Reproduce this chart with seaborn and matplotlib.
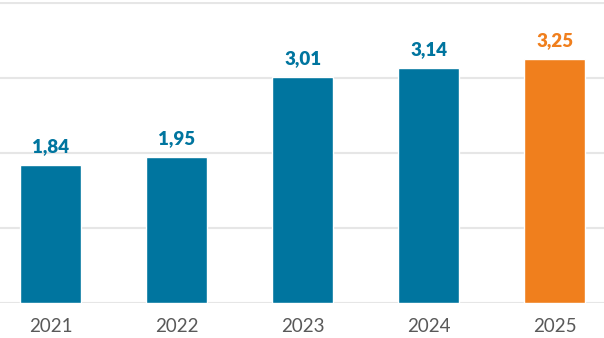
import matplotlib
matplotlib.use("Agg")
import matplotlib.pyplot as plt
import seaborn as sns
import pandas as pd

years = ["2021", "2022", "2023", "2024", "2025"]
values = [1.84, 1.95, 3.01, 3.14, 3.25]
bar_colors = ["#00759F", "#00759F", "#00759F", "#00759F", "#F07F1D"]

sns.set_theme(style="white")
plt.rcParams["font.family"] = ["Lato", "DejaVu Sans"]

df = pd.DataFrame({"year": years, "value": values})

fig = plt.figure(figsize=(6.04, 3.38), dpi=100)
ax = fig.add_axes([0, 0.105, 1, 0.89])

sns.barplot(data=df, x="year", y="value", hue="year", palette=bar_colors,
            legend=False, width=0.484, ax=ax, saturation=1)

for patch, v, c in zip(ax.patches, values, bar_colors):
    ax.annotate(f"{v:.2f}".replace(".", ","),
                (patch.get_x() + patch.get_width() / 2, v),
                xytext=(0, 7), textcoords="offset points",
                ha="center", va="bottom", fontsize=13.5, fontweight="heavy",
                color=c)

ax.set_ylim(0, 4.02)
ax.set_xlim(-0.4, 4.39)
ax.set_yticks([0, 1, 2, 3, 4])
ax.yaxis.grid(True, color="#E6E6E6", linewidth=1.5)
ax.set_axisbelow(True)
ax.tick_params(axis="y", left=False, labelleft=False)
ax.tick_params(axis="x", bottom=False, labelsize=13.5, labelcolor="#595959", pad=5)
ax.set_xlabel("")
ax.set_ylabel("")
for s in ax.spines.values():
    s.set_visible(False)

fig.savefig("out.png", dpi=100)
